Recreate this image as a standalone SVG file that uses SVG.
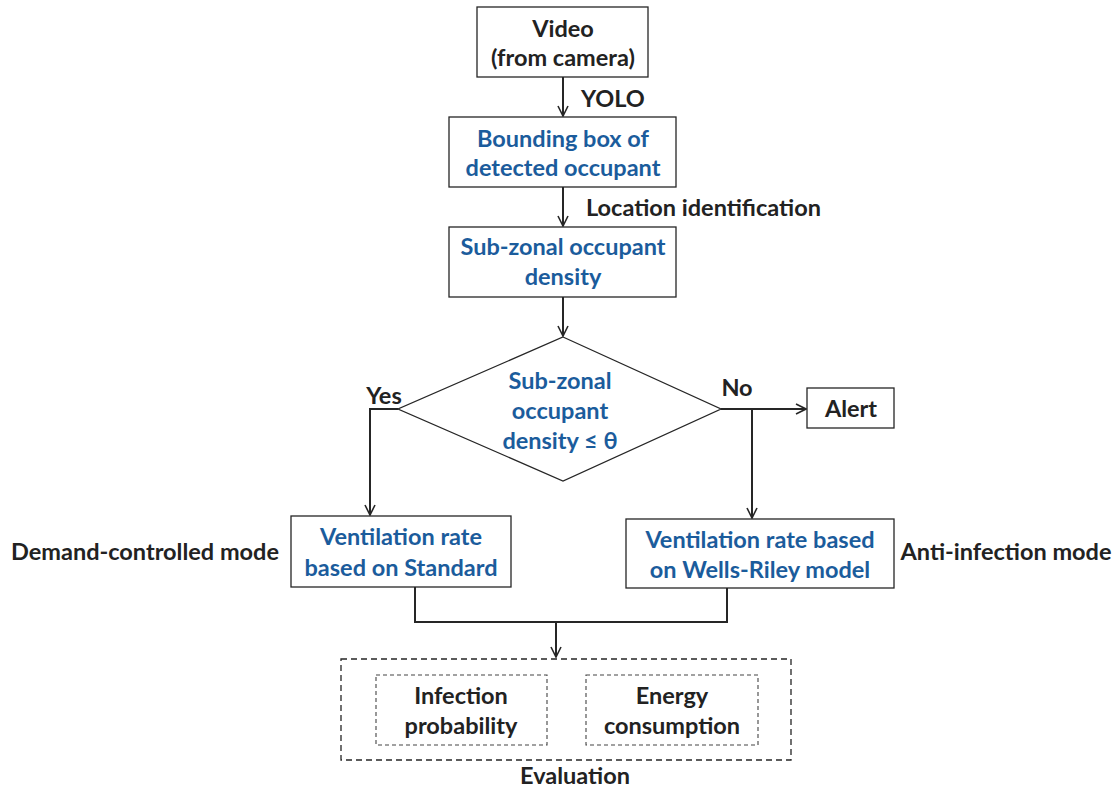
<svg xmlns="http://www.w3.org/2000/svg" width="1114" height="790" viewBox="0 0 1114 790">
<defs>
<marker id="arr" viewBox="0 0 12 12" refX="11" refY="6" markerWidth="12" markerHeight="12" markerUnits="userSpaceOnUse" orient="auto">
<polyline points="1,1 11,6 1,11" fill="none" stroke="#262626" stroke-width="1.6"/>
</marker>
</defs>
<style>
.box{fill:#fff;stroke:#262626;stroke-width:1.3}
.dash{fill:none;stroke:#262626;stroke-width:1.3;stroke-dasharray:6,4}
.dash2{fill:none;stroke:#444;stroke-width:1.1;stroke-dasharray:4,3}
.ln{fill:none;stroke:#262626;stroke-width:2}
text{font-family:"Lato","Liberation Sans",sans-serif;font-weight:bold;font-size:23.5px;text-anchor:middle}
.k{fill:#222}
.b{fill:#1B5C9C}
.l{text-anchor:start}
</style>
<rect width="1114" height="790" fill="#fff"/>
<g id="connectors">
<line class="ln" x1="563" y1="77" x2="563" y2="116" marker-end="url(#arr)"/>
<line class="ln" x1="563" y1="187" x2="563" y2="226" marker-end="url(#arr)"/>
<line class="ln" x1="563" y1="297" x2="563" y2="336" marker-end="url(#arr)"/>
<polyline class="ln" points="398,409 370,409 370,515" marker-end="url(#arr)"/>
<line class="ln" x1="721" y1="409" x2="806" y2="409" marker-end="url(#arr)"/>
<line class="ln" x1="752" y1="409" x2="752" y2="518" marker-end="url(#arr)"/>
<polyline class="ln" points="415,587 415,622 727,622 727,588"/>
<line class="ln" x1="556" y1="622" x2="556" y2="657" marker-end="url(#arr)"/>
<text class="k l" x="581" y="107">YOLO</text>
<text class="k l" x="586" y="216">Location identification</text>
<text class="k" x="384" y="404">Yes</text>
<text class="k" x="737" y="396">No</text>
</g>
<g id="video">
<rect class="box" x="477" y="7" width="171" height="70"/>
<text class="k" x="563" y="37">Video</text>
<text class="k" x="563" y="66">(from camera)</text>
</g>
<g id="bbox">
<rect class="box" x="449" y="117" width="227" height="70"/>
<text class="b" x="563" y="147">Bounding box of</text>
<text class="b" x="563" y="176">detected occupant</text>
</g>
<g id="density">
<rect class="box" x="449" y="227" width="227" height="70"/>
<text class="b" x="563" y="255">Sub-zonal occupant</text>
<text class="b" x="563" y="285">density</text>
</g>
<g id="decision">
<polygon class="box" points="563,337 721,409 563,481 398,409"/>
<text class="b" x="560" y="389">Sub-zonal</text>
<text class="b" x="560" y="419">occupant</text>
<text class="b" x="560" y="449">density ≤ θ</text>
</g>
<g id="alert">
<rect class="box" x="807" y="388" width="87" height="40"/>
<text class="k" x="851" y="417">Alert</text>
</g>
<g id="standard">
<rect class="box" x="291" y="516" width="220" height="71"/>
<text class="b" x="401" y="545">Ventilation rate</text>
<text class="b" x="401" y="576">based on Standard</text>
</g>
<g id="wells">
<rect class="box" x="626" y="519" width="268" height="69"/>
<text class="b" x="760" y="548">Ventilation rate based</text>
<text class="b" x="760" y="578">on Wells-Riley model</text>
</g>
<g id="modes">
<text class="k" x="145" y="560">Demand-controlled mode</text>
<text class="k" x="1006" y="560">Anti-infection mode</text>
</g>
<g id="evaluation">
<rect class="dash" x="341" y="659" width="450" height="101"/>
<text class="k" x="575" y="784">Evaluation</text>
</g>
<g id="infection">
<rect class="dash2" x="376" y="675" width="171" height="70"/>
<text class="k" x="461" y="704">Infection</text>
<text class="k" x="461" y="734">probability</text>
</g>
<g id="energy">
<rect class="dash2" x="586" y="675" width="172" height="70"/>
<text class="k" x="672" y="704">Energy</text>
<text class="k" x="672" y="734">consumption</text>
</g>
</svg>
